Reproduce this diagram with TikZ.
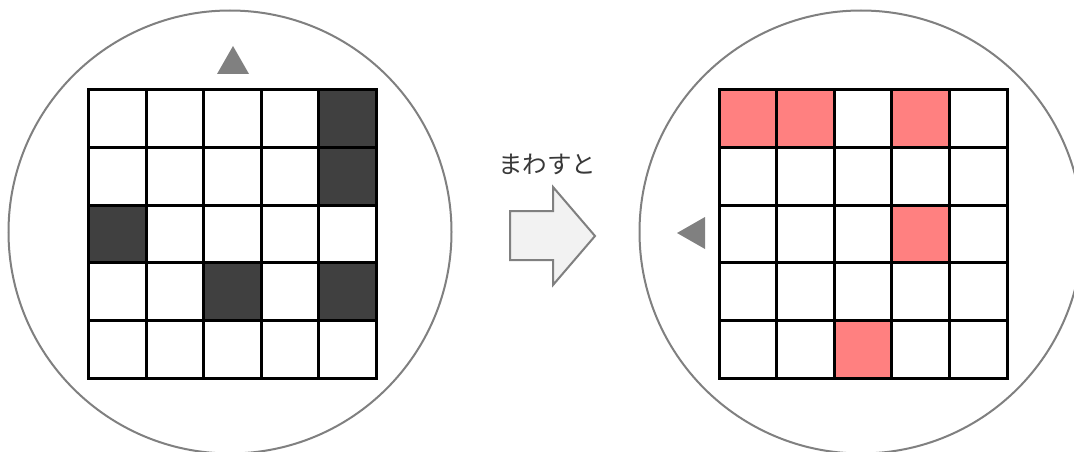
\documentclass[tikz,border=0pt]{standalone}
\usepackage{fontspec}
\newfontfamily\jpfont{Noto Sans CJK JP}
\definecolor{ringgray}{HTML}{808080}
\definecolor{darkcell}{HTML}{404040}
\definecolor{pinkcell}{HTML}{FF8080}
\definecolor{arrowfill}{HTML}{F2F2F2}
\definecolor{textgray}{HTML}{383838}
\begin{document}
\begin{tikzpicture}[x=1pt,y=-1pt,
  ring/.style={draw=ringgray,line width=2pt},
  gridline/.style={draw=black,line width=3pt},
  marker/.style={fill=ringgray},
  bigarrow/.style={draw=ringgray,fill=arrowfill,line width=2pt,line join=miter}]
\useasboundingbox (0,0) rectangle (1074,452);
\fill[white] (0,0) rectangle (1074,452);
\def\cs{57.6}
% left circle
\draw[ring] (230,232) circle (221.5);
\foreach \r/\c in {0/4,1/4,2/0,3/2,3/4}{
  \fill[darkcell] ({88.5+\c*\cs},{90+\r*\cs}) rectangle ++(\cs,\cs);
}
\foreach \i in {1,2,3,4}{
  \draw[gridline] ({88.5+\i*\cs},90) -- ++(0,288);
  \draw[gridline] (88.5,{90+\i*\cs}) -- ++(288,0);
}
\draw[gridline] (88.5,90) rectangle ++(288,288);
\fill[marker] (233,46) -- (249,74) -- (217,74) -- cycle;
% right circle
\draw[ring] (861,232) circle (221.5);
\foreach \r/\c in {0/0,0/1,0/3,2/3,4/2}{
  \fill[pinkcell] ({719+\c*\cs},{90+\r*\cs}) rectangle ++(\cs,\cs);
}
\foreach \i in {1,2,3,4}{
  \draw[gridline] ({719+\i*\cs},90) -- ++(0,288);
  \draw[gridline] (719,{90+\i*\cs}) -- ++(288,0);
}
\draw[gridline] (719,90) rectangle ++(288,288);
\fill[marker] (677,233) -- (705,217) -- (705,249) -- cycle;
% arrow
\draw[bigarrow] (510,211) -- (553,211) -- (553,187) -- (595,236) -- (553,285) -- (553,260) -- (510,260) -- cycle;
\node[text=textgray,inner sep=0pt] (label) at (547,164) {\jpfont\fontsize{24.5}{28}\selectfont まわすと};
\end{tikzpicture}
\end{document}
